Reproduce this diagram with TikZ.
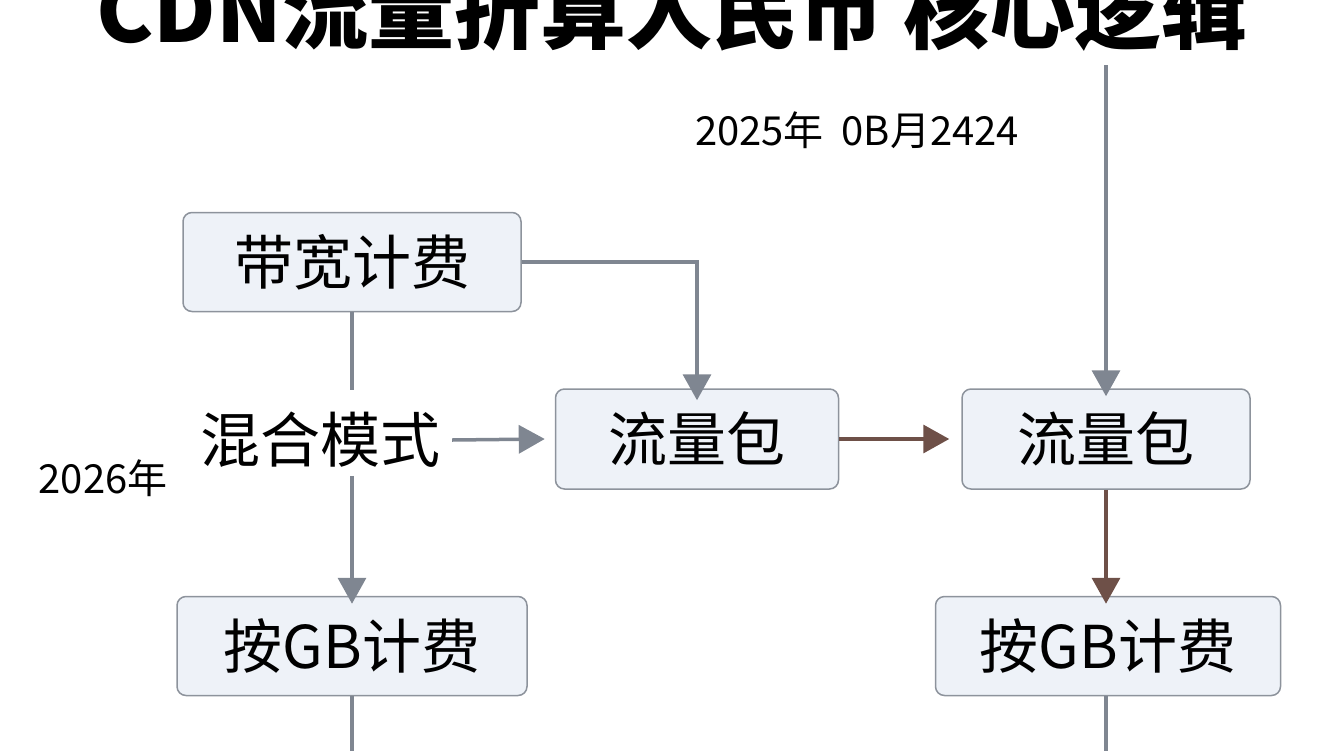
\documentclass[tikz,border=0pt]{standalone}
\usepackage{fontspec}
\setmainfont{Noto Sans CJK SC}
\usetikzlibrary{arrows.meta,positioning}
\definecolor{flowgray}{HTML}{7F8691}
\definecolor{flowbrown}{HTML}{6E5048}
\definecolor{boxfill}{HTML}{EEF2F8}
\definecolor{boxline}{HTML}{8D939C}
\begin{document}
\begin{tikzpicture}[
    x=1pt, y=-1pt,
    box/.style={draw=boxline, fill=boxfill, line width=1.5pt, rounded corners=9pt,
        font=\fontsize{59}{62}\selectfont, inner sep=0, align=center},
    note/.style={font=\fontsize{40}{44}\selectfont, inner sep=0},
    link/.style={draw=flowgray, line width=3.5pt, -{Triangle[length=26pt,width=28pt]}},
    plain/.style={draw=flowgray, line width=3.5pt},
    brown link/.style={link, draw=flowbrown}]
\useasboundingbox (0,0) rectangle (1344,750);

\node[font=\bfseries\fontsize{86}{90}\selectfont, inner sep=0] (title) at (672,10) {CDN流量折算人民币 核心逻辑};
\node[note] (date top) at (857,130) {2025年\ \ 0B月2424};
\node[note] (date left) at (103,478) {2026年};

\node[box, minimum width=338pt, minimum height=99pt] (bandwidth) at (352,262) {带宽计费};
\node[font=\fontsize{60}{64}\selectfont, inner sep=0] (mixed) at (320,440) {混合模式};
\node[box, minimum width=283pt, minimum height=100pt] (pack left) at (697,439) {流量包};
\node[box, minimum width=288pt, minimum height=100pt] (pack right) at (1106,439) {流量包};
\node[box, minimum width=350pt, minimum height=99pt] (gb left) at (352,646) {按GB计费};
\node[box, minimum width=345pt, minimum height=99pt] (gb right) at (1108,646) {按GB计费};

\coordinate (top in) at (1106,65);
\coordinate (mixed top) at (352,390);
\coordinate (left out) at (352,780);
\coordinate (right out) at (1106,780);

\path[plain] (bandwidth.south -| mixed top) -- (mixed top);
\path[link] (bandwidth.east) -| ([yshift=-12pt]pack left.north);
\path[link] ([xshift=12pt]mixed.east) -- ([xshift=-10pt]pack left.west);
\path[link] ([yshift=-8pt]mixed.south -| mixed top) -- ([yshift=-8pt]gb left.north);
\path[brown link] (pack left.east) -- ([xshift=-12pt]pack right.west);
\path[brown link] (pack right.south) -- ([yshift=-8pt]gb right.north -| pack right.south);
\path[link] (top in) -- ([yshift=-8pt]pack right.north);
\path[link] (gb left.south) -- (left out);
\path[link] (gb right.south -| right out) -- (right out);
\end{tikzpicture}
\end{document}
